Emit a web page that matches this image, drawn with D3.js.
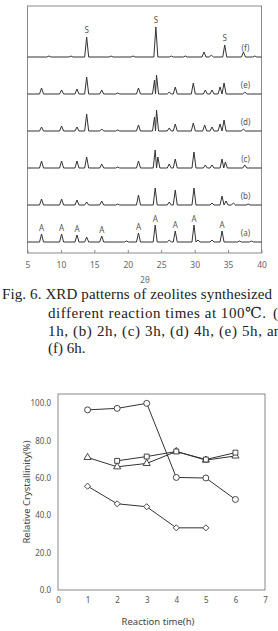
<!DOCTYPE html>
<html>
<head>
<meta charset="utf-8">
<script src="https://cdn.jsdelivr.net/npm/d3@7"></script>
<style>
  body { margin: 0; background: #fff; }
  svg { display: block; }
</style>
</head>
<body>
<div id="figure"></div>
<script>
// Overall size
const width = 278;
const height = 631;

// ---- XRD data (2theta, relative intensity) ----
const xrdLabels = ['(f)', '(e)', '(d)', '(c)', '(b)', '(a)'];
const xrdTicks = [5, 10, 15, 20, 25, 30, 35, 40];

const peaksF = [[8.2, 1], [11.5, 1], [13.85, 20], [17.5, 1], [20.8, 1], [24.2, 30], [26.5, 1], [28.6, 1], [31.4, 5], [32.5, 2], [34.5, 12], [37.3, 5], [39.0, 1]];
const peaksE = [[7.1, 6], [10.1, 4], [12.4, 5], [13.85, 17], [16.1, 4], [18.5, 1], [21.6, 6], [24.0, 14], [24.3, 19], [26.2, 2], [27.1, 7], [29.8, 11], [31.6, 4], [32.6, 4], [33.8, 7], [34.4, 11], [37.5, 2]];
const peaksD = [[7.1, 4], [10.1, 5], [12.4, 4], [13.85, 17], [16.1, 2], [18.5, 1], [21.6, 6], [24.0, 14], [24.3, 21], [26.2, 3], [27.1, 7], [29.8, 8], [31.5, 6], [32.6, 4], [33.8, 7], [34.4, 11], [37.3, 2]];
const peaksC = [[7.1, 7], [10.1, 7], [12.4, 7], [13.85, 11], [16.1, 4], [18.5, 1], [21.6, 7], [24.1, 18], [24.5, 11], [26.2, 4], [27.1, 9], [29.9, 16], [31.6, 3], [32.6, 3], [34.1, 9], [34.6, 6], [37.5, 3]];
const peaksB = [[7.1, 6], [10.1, 6], [12.4, 5], [13.85, 3], [16.1, 4], [18.5, 1], [21.6, 10], [24.1, 17], [26.2, 3], [27.1, 15], [29.9, 17], [32.6, 2], [34.1, 9], [34.7, 4], [35.8, 2], [38.0, 1]];
const peaksA = [[7.1, 8], [10.1, 8], [12.4, 7], [13.85, 5], [16.1, 6], [19.8, 1], [21.6, 9], [24.1, 17], [26.2, 2], [27.1, 11], [29.9, 17], [30.5, 2], [32.6, 2], [34.1, 11], [36.7, 1], [38.5, 1]];
const xrdPeaks = [peaksF, peaksE, peaksD, peaksC, peaksB, peaksA];

// phase labels: S = sodalite on (f), A = zeolite A on (a)
const sLabels = [13.85, 24.2, 34.5];
const aLabels = [7.1, 10.1, 12.4, 16.1, 21.6, 24.1, 27.1, 29.9, 34.1];

// ---- Relative crystallinity data ----
const hours = [1, 2, 3, 4, 5, 6];
const circleSeries = [96.5, 97.3, 100.0, 60.3, 60.0, 48.5];
const triangleSeries = [71.0, 66.0, 67.8, 74.2, 69.6, 71.8];
const squareSeries = [null, 69.2, 71.5, 74.2, 69.9, 73.6];
const diamondSeries = [55.6, 46.2, 44.6, 33.3, 33.3, null];
const xTicks = [0, 1, 2, 3, 4, 5, 6, 7];
const yTicks = [0, 20, 40, 60, 80, 100];

const captionLines = [
    'Fig. 6. XRD patterns of zeolites synthesized',
    'different reaction times at 100\u2103.',
    '1h, (b) 2h, (c) 3h, (d) 4h, (e) 5h,',
    '(f) 6h.'
];

const svg = d3.select('#figure')
    .append('svg')
    .attr('width', width)
    .attr('height', height);

// ================= XRD panel =================
const xrdBox = { left: 27.5, right: 261.5, top: 6, bottom: 253 };

const x2t = d3.scaleLinear()
    .domain([5, 40])
    .range([xrdBox.left, xrdBox.right]);

// baseline of each pattern
const offset = d3.scalePoint()
    .domain(xrdLabels)
    .range([57, 242]);

// intensity -> pixels
const yInt = d3.scaleLinear()
    .domain([0, 40])
    .range([0, 40]);

svg.append('rect')
    .attr('x', xrdBox.left)
    .attr('y', xrdBox.top)
    .attr('width', xrdBox.right - xrdBox.left)
    .attr('height', xrdBox.bottom - xrdBox.top)
    .attr('fill', 'none')
    .attr('stroke', '#8a8a8a')
    .attr('stroke-width', 1);

const xrdAxis = svg.append('g')
    .attr('transform', `translate(0,${xrdBox.bottom})`)
    .call(d3.axisBottom(x2t).tickValues(xrdTicks).tickSize(-3).tickPadding(9).tickFormat(d3.format('d')));
xrdAxis.select('.domain').remove();
xrdAxis.selectAll('line').attr('stroke', '#8a8a8a');
xrdAxis.selectAll('text')
    .attr('fill', '#666')
    .style('font-family', 'Noto Sans, sans-serif')
    .style('font-size', '8.5px');

svg.append('text')
    .attr('x', 145)
    .attr('y', 283)
    .attr('text-anchor', 'middle')
    .attr('fill', '#666')
    .style('font-family', 'Noto Sans, sans-serif')
    .style('font-size', '8px')
    .text('2\u03b8');

// build one trace from its list of peaks
function tracePoints(peaks) {
    const w = 0.3;
    const pts = [[5, 0]];
    peaks.forEach((p, i) => {
        const prev = i > 0 ? peaks[i - 1][0] : 5;
        const next = i < peaks.length - 1 ? peaks[i + 1][0] : 40;
        const wl = Math.min(w, (p[0] - prev) / 2);
        const wr = Math.min(w, (next - p[0]) / 2);
        pts.push([p[0] - wl, 0], [p[0], p[1]], [p[0] + wr, 0]);
    });
    pts.push([40, 0]);
    return pts;
}

xrdPeaks.forEach((peaks, i) => {
    const base = offset(xrdLabels[i]);
    const line = d3.line()
        .x(d => x2t(d[0]))
        .y(d => base - yInt(d[1]));
    svg.append('path')
        .datum(tracePoints(peaks))
        .attr('d', line)
        .attr('fill', 'none')
        .attr('stroke', '#333')
        .attr('stroke-width', 1)
        .attr('stroke-linejoin', 'round');

    svg.append('text')
        .attr('x', 245.5)
        .attr('y', base - 6)
        .attr('text-anchor', 'middle')
        .attr('fill', '#555')
        .style('font-family', 'Noto Sans, sans-serif')
        .style('font-size', '8px')
        .text(xrdLabels[i]);
});

// S labels above top pattern
sLabels.forEach(t => {
    const pk = peaksF.find(p => p[0] === t);
    svg.append('text')
        .attr('x', x2t(t))
        .attr('y', offset('(f)') - yInt(pk[1]) - 4)
        .attr('text-anchor', 'middle')
        .attr('fill', '#555')
        .style('font-family', 'Noto Sans, sans-serif')
        .style('font-size', '8px')
        .text('S');
});

// A labels above bottom pattern
aLabels.forEach(t => {
    const pk = peaksA.find(p => p[0] === t);
    svg.append('text')
        .attr('x', x2t(t))
        .attr('y', offset('(a)') - yInt(pk[1]) - 3)
        .attr('text-anchor', 'middle')
        .attr('fill', '#555')
        .style('font-family', 'Noto Sans, sans-serif')
        .style('font-size', '8px')
        .text('A');
});

// ================= caption =================
const caption = svg.append('g')
    .attr('fill', '#222')
    .style('font-family', 'Liberation Serif, DejaVu Serif, serif')
    .style('font-size', '15px');

caption.append('text').attr('x', 2).attr('y', 299)
    .attr('textLength', 270).attr('lengthAdjust', 'spacing')
    .text(captionLines[0]);

caption.append('text').attr('x', 48).attr('y', 318)
    .attr('textLength', 218).attr('lengthAdjust', 'spacing')
    .text(captionLines[1]);
caption.append('text').attr('x', 273).attr('y', 318).text('(a)');

caption.append('text').attr('x', 48).attr('y', 336)
    .attr('textLength', 214).attr('lengthAdjust', 'spacing')
    .text(captionLines[2]);
caption.append('text').attr('x', 267).attr('y', 336).text('and');

caption.append('text').attr('x', 48).attr('y', 353)
    .text(captionLines[3]);

// ================= crystallinity chart =================
const plot = { left: 58, right: 265, top: 394, bottom: 590 };

const x = d3.scaleLinear()
    .domain([0, 7])
    .range([plot.left, plot.right]);

const y = d3.scaleLinear()
    .domain([0, 105])
    .range([plot.bottom, plot.top]);

svg.append('rect')
    .attr('x', plot.left)
    .attr('y', plot.top)
    .attr('width', plot.right - plot.left)
    .attr('height', plot.bottom - plot.top)
    .attr('fill', 'none')
    .attr('stroke', '#888')
    .attr('stroke-width', 1);

const yAxis = svg.append('g')
    .attr('transform', `translate(${plot.left},0)`)
    .call(d3.axisLeft(y).tickValues(yTicks).tickSize(0).tickPadding(7).tickFormat(d3.format('.1f')));
yAxis.select('.domain').remove();

const xAxis = svg.append('g')
    .attr('transform', `translate(0,${plot.bottom})`)
    .call(d3.axisBottom(x).tickValues(xTicks).tickSize(0).tickPadding(7).tickFormat(d3.format('d')));
xAxis.select('.domain').remove();

[yAxis, xAxis].forEach(ax => {
    ax.selectAll('text')
        .attr('fill', '#555')
        .style('font-family', 'Noto Sans, sans-serif')
        .style('font-size', '8px');
});

svg.append('text')
    .attr('x', 158)
    .attr('y', 625)
    .attr('text-anchor', 'middle')
    .attr('fill', '#444')
    .style('font-family', 'Noto Sans, sans-serif')
    .style('font-size', '9.5px')
    .text('Reaction time(h)');

svg.append('text')
    .attr('transform', 'translate(30,492) rotate(-90)')
    .attr('text-anchor', 'middle')
    .attr('fill', '#444')
    .style('font-family', 'Noto Sans, sans-serif')
    .style('font-size', '9.5px')
    .text('Relative Crystallinity(%)');

const seriesList = [
    { values: circleSeries, symbol: d3.symbolCircle, size: 28 },
    { values: triangleSeries, symbol: d3.symbolTriangle, size: 22 },
    { values: squareSeries, symbol: d3.symbolSquare, size: 24 },
    { values: diamondSeries, symbol: d3.symbolDiamond2, size: 24 }
];

const line = d3.line()
    .defined(d => d.v !== null)
    .x(d => x(d.h))
    .y(d => y(d.v));

seriesList.forEach(s => {
    const pts = hours.map((h, i) => ({ h: h, v: s.values[i] }));
    svg.append('path')
        .datum(pts)
        .attr('d', line)
        .attr('fill', 'none')
        .attr('stroke', '#333')
        .attr('stroke-width', 1);
});

seriesList.forEach(s => {
    const pts = hours.map((h, i) => ({ h: h, v: s.values[i] })).filter(d => d.v !== null);
    svg.append('g').selectAll('path')
        .data(pts)
        .join('path')
        .attr('transform', d => `translate(${x(d.h)},${y(d.v)})`)
        .attr('d', d3.symbol().type(s.symbol).size(s.size))
        .attr('fill', '#fff')
        .attr('stroke', '#333')
        .attr('stroke-width', 0.9);
});
</script>
</body>
</html>
